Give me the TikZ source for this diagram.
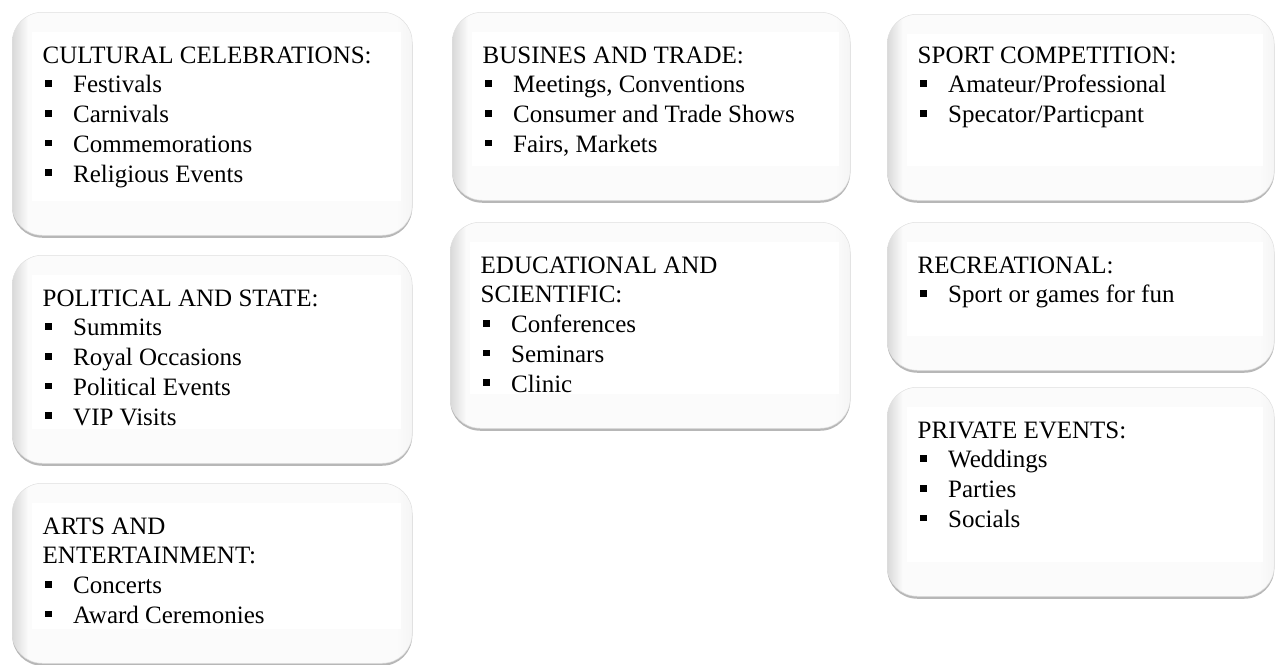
\documentclass[tikz,border=0pt]{standalone}
\usepackage{fontspec}
\setmainfont{Liberation Serif}
\usepackage{tikz}
\usetikzlibrary{shadows, positioning}

\pgfdeclarehorizontalshading{boxshade}{100bp}{color(0bp)=(gray!30); color(25bp)=(gray!30);
	color(27bp)=(gray!3); color(73bp)=(gray!3); color(75bp)=(gray!8); color(100bp)=(gray!8)}

\newcommand{\bitem}[1]{\makebox[30.5pt][l]{\hspace{2.4pt}\rule[6pt]{6.5pt}{6.8pt}}#1}

\tikzset{
	evbox/.style={
		rounded corners=30pt, draw=gray!25, line width=0.5pt,
		shading=boxshade, anchor=north west, inner sep=0pt,
		drop shadow={shadow xshift=0pt, shadow yshift=-2.5pt, fill=gray!80, opacity=0.7},
	},
	evtext/.style={
		anchor=base west, inner sep=0pt,
		font=\fontsize{25}{29.8}\selectfont,
	},
}

\begin{document}
\begin{tikzpicture}[x=1pt, y=-1pt]
\useasboundingbox (0,0) rectangle (1276,664);

% boxes
\node[evbox, minimum width=400pt, minimum height=223pt] (cult)  at (12,12)  {};
\node[evbox, minimum width=400pt, minimum height=208pt] (pol)   at (12,255) {};
\node[evbox, minimum width=400pt, minimum height=180pt] (arts)  at (12,483) {};
\node[evbox, minimum width=398pt, minimum height=188pt] (bus)   at (452,12) {};
\node[evbox, minimum width=400pt, minimum height=206pt] (edu)   at (450,222) {};
\node[evbox, minimum width=387pt, minimum height=186pt] (sport) at (887,14) {};
\node[evbox, minimum width=387pt, minimum height=148pt] (rec)   at (887,222) {};
\node[evbox, minimum width=387pt, minimum height=209pt] (priv)  at (887,387) {};

% lighter text area
\foreach \b in {cult, pol, arts, bus, edu, sport, rec, priv}
	\fill[white] ([shift={(20pt,-20pt)}]\b.north west) rectangle ([shift={(-12pt,35pt)}]\b.south east);

% texts
\node[evtext] (cult-t) at ([shift={(30.5pt,-51pt)}]cult.north west) {\begin{tabular}[t]{@{}l@{}}
	CULTURAL CELEBRATIONS:\\ \bitem{Festivals}\\ \bitem{Carnivals}\\
	\bitem{Commemorations}\\ \bitem{Religious Events}\end{tabular}};
\node[evtext] (pol-t) at ([shift={(30.5pt,-51pt)}]pol.north west) {\begin{tabular}[t]{@{}l@{}}
	POLITICAL AND STATE:\\ \bitem{Summits}\\ \bitem{Royal Occasions}\\
	\bitem{Political Events}\\ \bitem{VIP Visits}\end{tabular}};
\node[evtext] (arts-t) at ([shift={(30.5pt,-51pt)}]arts.north west) {\begin{tabular}[t]{@{}l@{}}
	ARTS AND\\ ENTERTAINMENT:\\ \bitem{Concerts}\\ \bitem{Award Ceremonies}\end{tabular}};
\node[evtext] (bus-t) at ([shift={(30.5pt,-51pt)}]bus.north west) {\begin{tabular}[t]{@{}l@{}}
	BUSINES AND TRADE:\\ \bitem{Meetings, Conventions}\\
	\bitem{Consumer and Trade Shows}\\ \bitem{Fairs, Markets}\end{tabular}};
\node[evtext] (edu-t) at ([shift={(30.5pt,-51pt)}]edu.north west) {\begin{tabular}[t]{@{}l@{}}
	EDUCATIONAL AND\\ SCIENTIFIC:\\ \bitem{Conferences}\\
	\bitem{Seminars}\\ \bitem{Clinic}\end{tabular}};
\node[evtext] (sport-t) at ([shift={(30.5pt,-49pt)}]sport.north west) {\begin{tabular}[t]{@{}l@{}}
	SPORT COMPETITION:\\ \bitem{Amateur/Professional}\\
	\bitem{Specator/Particpant}\end{tabular}};
\node[evtext] (rec-t) at ([shift={(30.5pt,-51pt)}]rec.north west) {\begin{tabular}[t]{@{}l@{}}
	RECREATIONAL:\\ \bitem{Sport or games for fun}\end{tabular}};
\node[evtext] (priv-t) at ([shift={(30.5pt,-51pt)}]priv.north west) {\begin{tabular}[t]{@{}l@{}}
	PRIVATE EVENTS:\\ \bitem{Weddings}\\ \bitem{Parties}\\ \bitem{Socials}\end{tabular}};
\end{tikzpicture}
\end{document}
